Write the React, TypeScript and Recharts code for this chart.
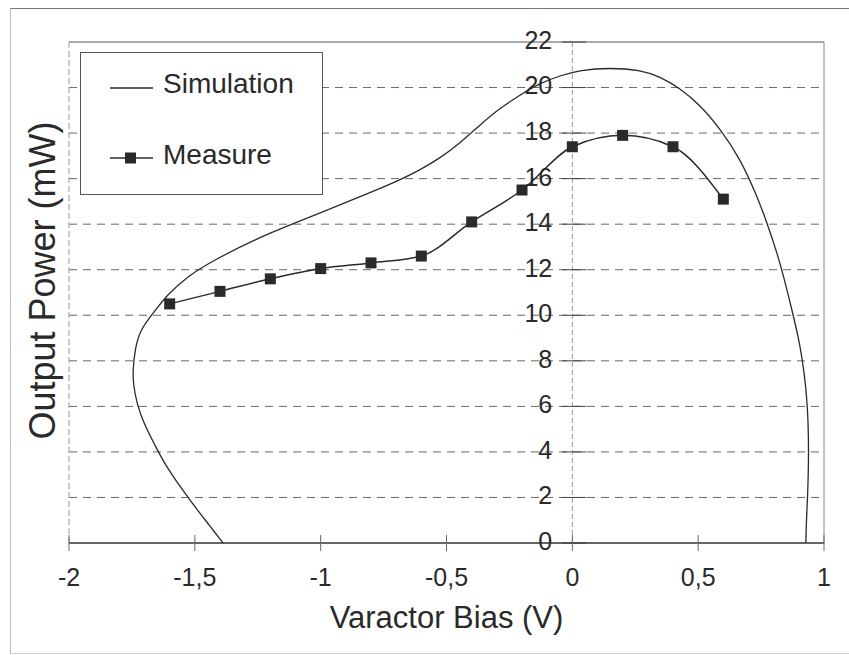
import React from 'react'
import { LineChart, Line, XAxis, YAxis, ReferenceLine, Legend, Label } from 'recharts'

// simulation trace, in path order (it bends back on itself at the left)
const SIM_X = [
  -1.388, -1.44, -1.48, -1.547, -1.61, -1.65, -1.705, -1.73, -1.745, -1.746, -1.738, -1.718, -1.665, -1.61, -1.53,
  -1.43, -1.21, -1.0, -0.8, -0.685, -0.605, -0.526, -0.447, -0.367, -0.288, -0.208, -0.129, -0.049, 0.03, 0.15,
  0.269, 0.348, 0.427, 0.507, 0.586, 0.666, 0.732, 0.772, 0.812, 0.838, 0.871, 0.904, 0.921, 0.935, 0.94, 0.935,
  0.93, 0.928,
]
const SIM_Y = [
  0, 0.75, 1.3, 2.3, 3.3, 4.1, 5.3, 6.1, 7.0, 7.6, 8.5, 9.35, 10.1, 10.9, 11.7, 12.4, 13.6, 14.5, 15.4, 15.94, 16.38,
  16.9, 17.55, 18.36, 19.09, 19.67, 20.19, 20.52, 20.77, 20.87, 20.77, 20.48, 19.97, 19.24, 18.21, 16.9, 15.28, 14.11,
  12.79, 11.77, 10.31, 8.77, 7.5, 6.1, 4.0, 2.0, 1.0, 0,
]
const MEAS_X = [-1.6, -1.4, -1.2, -1, -0.8, -0.6, -0.4, -0.2, 0, 0.2, 0.4, 0.6]
const MEAS_Y = [10.5, 11.05, 11.6, 12.05, 12.3, 12.6, 14.1, 15.5, 17.4, 17.9, 17.4, 15.1]
const X_TICKS = [-2, -1.5, -1, -0.5, 0, 0.5, 1]
const Y_TICKS = [0, 2, 4, 6, 8, 10, 12, 14, 16, 18, 20, 22]
const SERIES = ['Simulation', 'Measure']

const simulation = SIM_X.map((x, i) => ({ x, y: SIM_Y[i] }))
const measure = MEAS_X.map((x, i) => ({ x, y: MEAS_Y[i] }))

const FONT = '"Liberation Sans", Arial, sans-serif'
const INK = '#2a2a2a'

function XTick({ x, y, payload }: any) {
  return (
    <g>
      <line x1={x} x2={x} y1={y - 8} y2={y + 8} stroke="#666" />
      <text x={x} y={y + 43} textAnchor="middle" fontSize={25} fill={INK} fontFamily={FONT}>
        {String(payload.value).replace('.', ',')}
      </text>
    </g>
  )
}

function SquareDot({ cx, cy }: any) {
  return <rect x={cx - 5.5} y={cy - 5.5} width={11} height={11} fill={INK} />
}

function YTitle({ viewBox }: any) {
  const x = viewBox.x + 55
  const y = viewBox.y + viewBox.height / 2 - 12
  return (
    <text x={x} y={y} transform={`rotate(-90, ${x}, ${y})`} textAnchor="middle" fontSize={36} fill={INK} fontFamily={FONT}>
      Output Power (mW)
    </text>
  )
}

function LegendBox() {
  return (
    <div style={{ width: 243, height: 143, boxSizing: 'border-box', border: '1px solid #555', background: '#fff' }}>
      <svg width={241} height={141} style={{ display: 'block' }}>
        <line x1={29} x2={72} y1={35} y2={35} stroke={INK} strokeWidth={1.3} />
        <text x={82} y={40} fontSize={28} fill={INK} fontFamily={FONT}>{SERIES[0]}</text>
        <line x1={29} x2={72} y1={105} y2={105} stroke={INK} strokeWidth={1.5} />
        <rect x={44} y={99.5} width={11} height={11} fill={INK} />
        <text x={82} y={111} fontSize={28} fill={INK} fontFamily={FONT}>{SERIES[1]}</text>
      </svg>
    </div>
  )
}

export default function App() {
  return (
    <div style={{ position: 'relative', width: 849, height: 655, overflow: 'hidden', background: '#fff' }}>
      <style>{'body{margin:0}'}</style>
      <div
        style={{
          position: 'absolute', left: 10, top: 8, width: 860, height: 644,
          borderTop: '1px solid #777', borderLeft: '1px solid #bbb', borderBottom: '1px solid #ccc',
        }}
      />
      <LineChart width={849} height={655} margin={{ top: 42, right: 25, bottom: 0, left: 0 }}>
        <XAxis
          type="number"
          dataKey="x"
          domain={[-2, 1]}
          ticks={X_TICKS}
          height={112}
          tick={<XTick />}
          tickLine={false}
          tickSize={0}
          tickMargin={0}
          axisLine={{ stroke: '#333', strokeWidth: 1.3 }}
        >
          <Label value="Varactor Bias (V)" position="insideBottom" offset={27} fontSize={31} fill={INK} fontFamily={FONT} />
        </XAxis>
        <YAxis type="number" dataKey="y" domain={[0, 22]} ticks={Y_TICKS} width={69} tick={false} tickLine={false} axisLine={false}>
          <Label content={<YTitle />} />
        </YAxis>
        {/* dashed horizontal gridlines */}
        {Y_TICKS.slice(1, -1).map((v) => (
          <ReferenceLine key={`g${v}`} y={v} stroke="#666" strokeDasharray="8 6" />
        ))}
        <ReferenceLine y={22} stroke="#555" />
        <ReferenceLine x={-2} stroke="#999" strokeDasharray="6 3" />
        <ReferenceLine x={1} stroke="#888" />
        <ReferenceLine x={0} stroke="#999" strokeDasharray="5 3" />
        {Y_TICKS.map((v) => (
          <ReferenceLine
            key={v}
            segment={[{ x: -0.04, y: v }, { x: 0.055, y: v }]}
            stroke="#444"
            label={{ value: String(v), position: 'left', offset: 10, fontSize: 25, fill: INK, fontFamily: FONT, dy: -2 }}
          />
        ))}
        <Legend
          layout="vertical"
          align="center"
          verticalAlign="middle"
          wrapperStyle={{ left: 80, top: 52, width: 243, height: 143 }}
          content={<LegendBox />}
        />
        <Line
          data={simulation}
          dataKey="y"
          name={SERIES[0]}
          type="basis"
          stroke={INK}
          strokeWidth={1.3}
          dot={false}
          activeDot={false}
          isAnimationActive={false}
        />
        <Line
          data={measure}
          dataKey="y"
          name={SERIES[1]}
          type="monotone"
          stroke={INK}
          strokeWidth={1.5}
          dot={(p: any) => <SquareDot key={`m${p.index}`} {...p} />}
          activeDot={false}
          isAnimationActive={false}
        />
      </LineChart>
    </div>
  )
}
